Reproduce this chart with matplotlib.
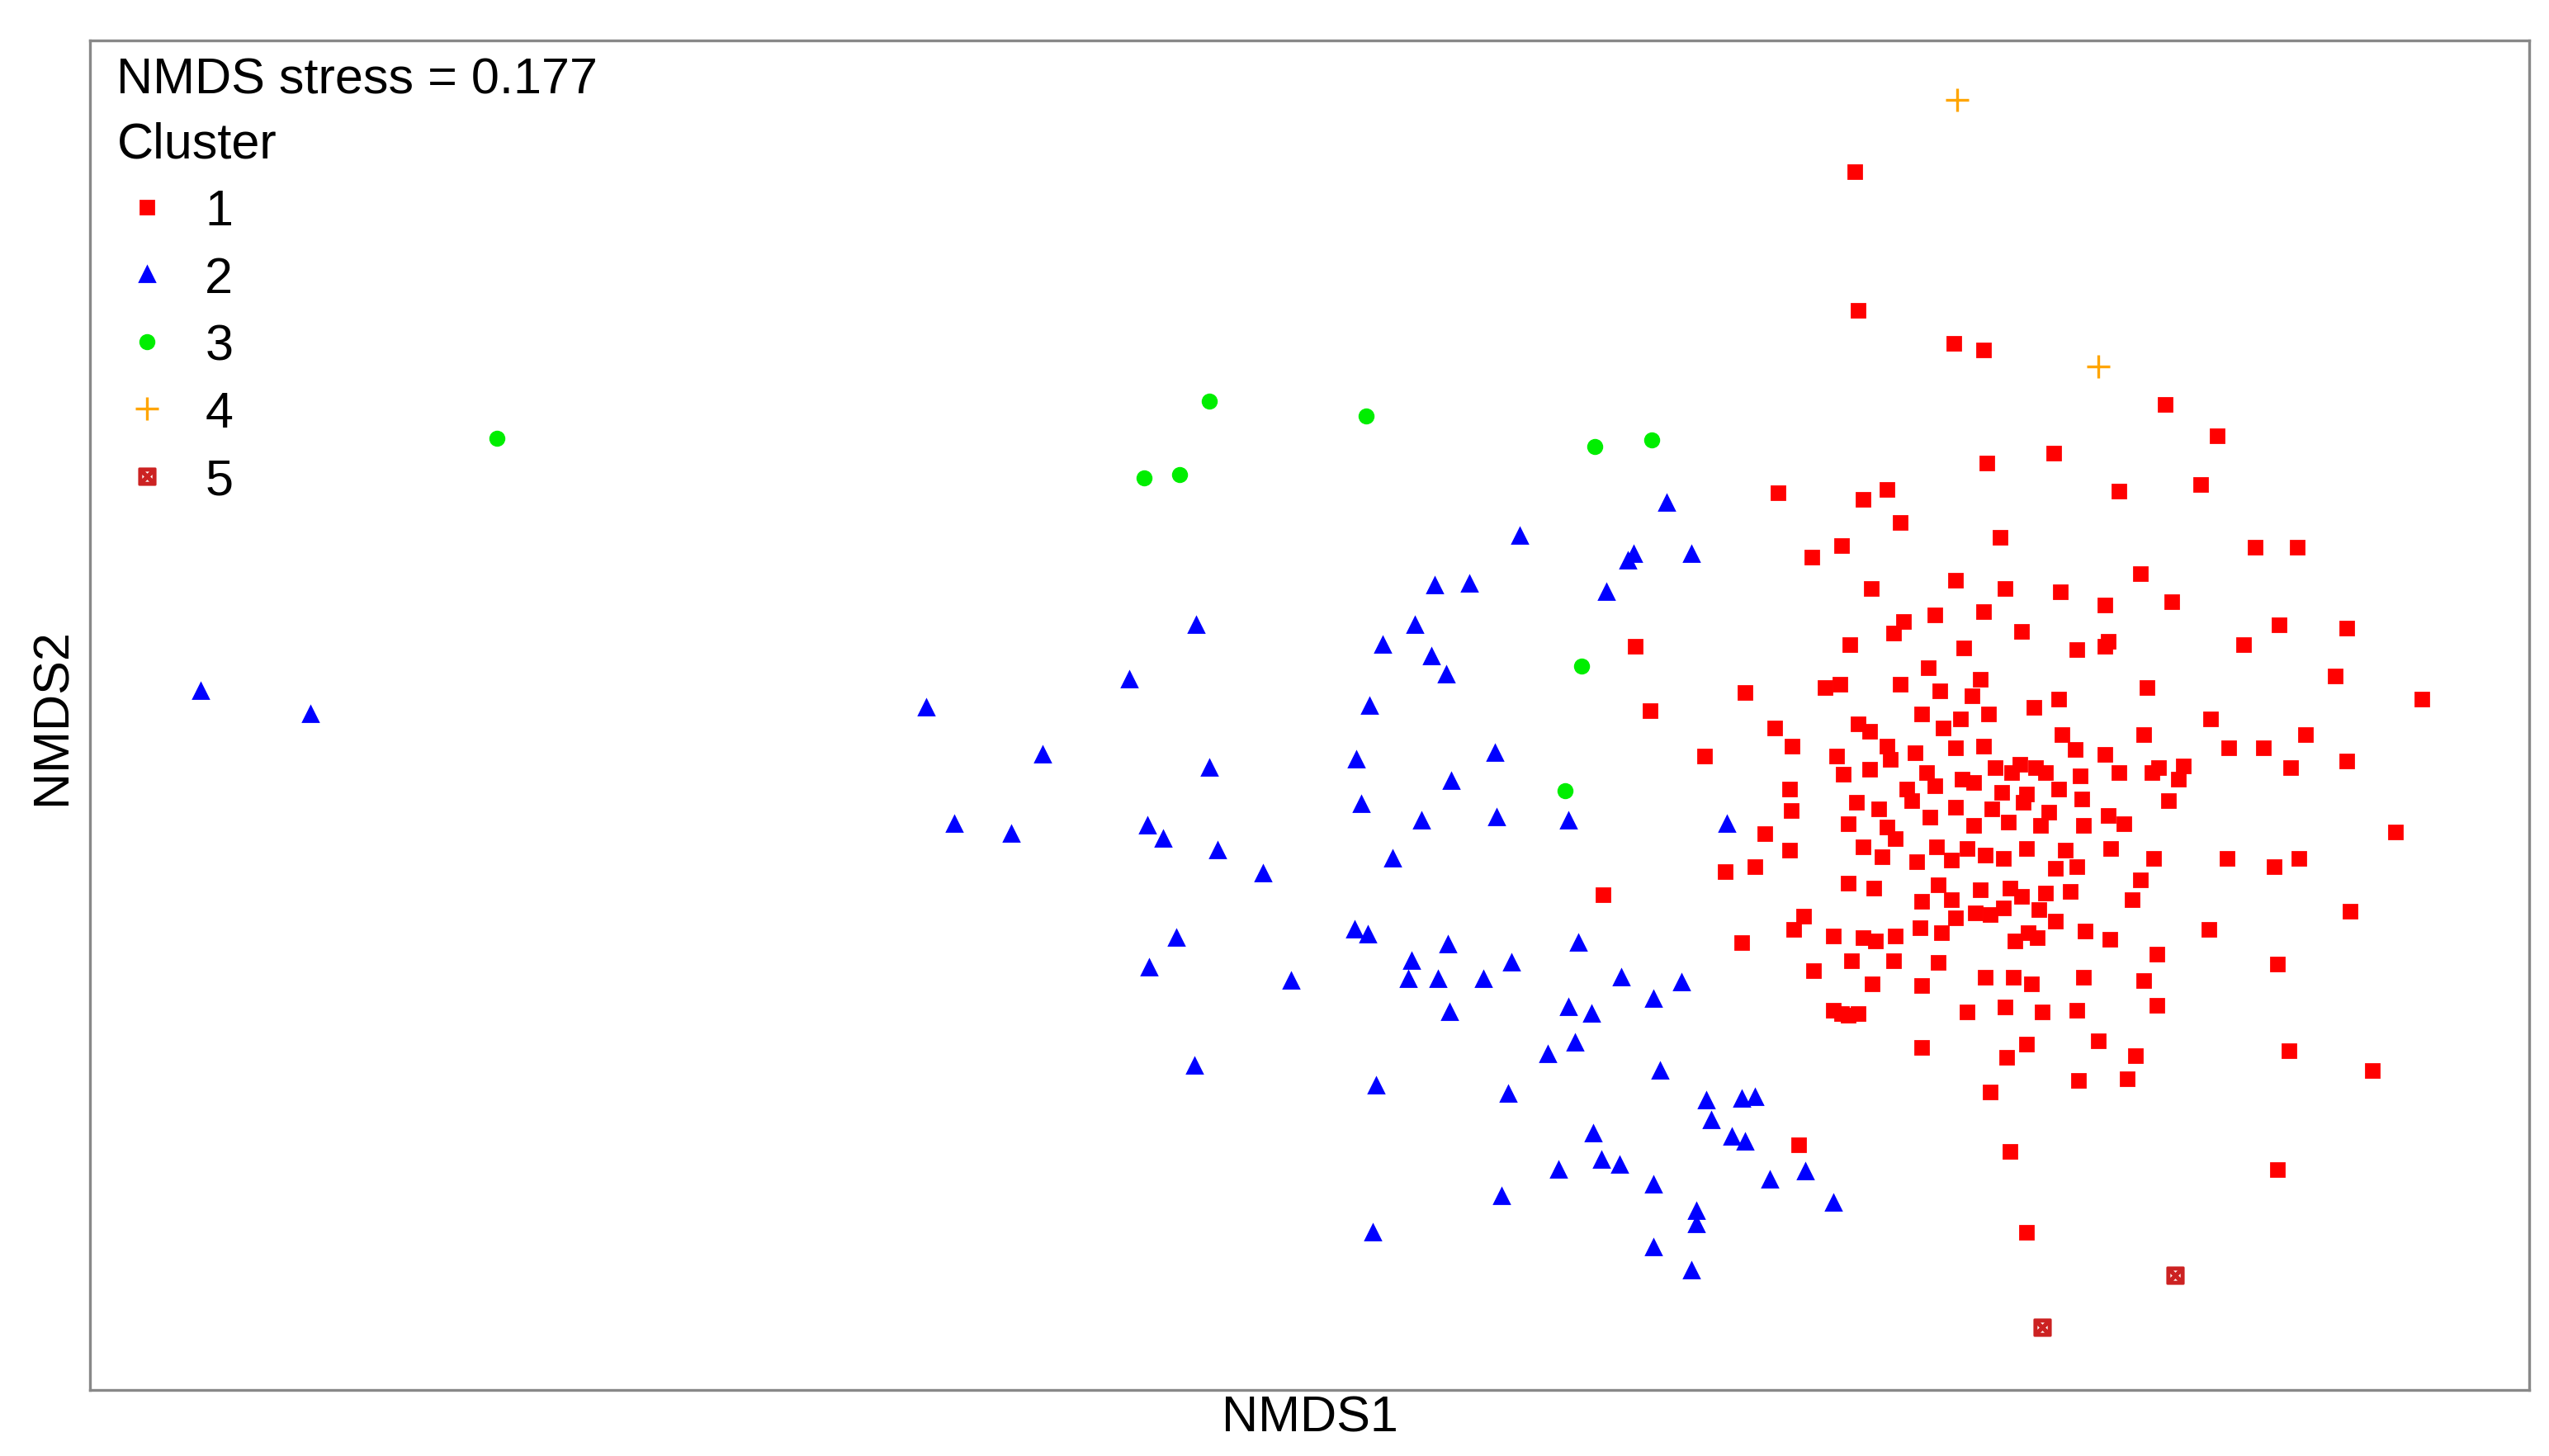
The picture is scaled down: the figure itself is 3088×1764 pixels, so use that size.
import matplotlib
matplotlib.use("Agg")
import matplotlib.pyplot as plt
import numpy as np

plt.rcParams['font.family'] = ['Liberation Sans', 'DejaVu Sans']

c1 = [(1135,105),(1137,189),(1196,209),(1214,213),(1325,246),(1357,265),(1257,276),(1216,282),(1347,295),(1297,299),(1088,300),(1140,304),(1155,298),(1163,318),(1127,332),(1109,339),(1224,327),(1380,333),(1406,333),(1145,358),(1197,353),(1227,358),(1261,360),(1310,349),(1329,366),(1288,368),(1184,374),(1165,378),(1214,372),(1237,384),(1159,385),(1132,392),(1202,394),(1290,390),(1395,380),(1436,382),(1373,392),(1001,393),(1271,395),(1288,393),(1180,406),(1212,413),(1314,418),(1429,411),(1482,425),(1068,421),(1117,418),(1126,416),(1163,416),(1187,420),(1207,423),(1176,434),(1245,430),(1260,425),(1010,432),(1086,443),(1137,440),(1217,434),(1353,437),(1411,447),(1043,460),(1097,454),(1144,445),(1155,454),(1189,443),(1200,437),(1262,447),(1312,447),(1124,460),(1157,462),(1172,458),(1197,455),(1214,454),(1236,465),(1246,467),(1270,456),(1288,459),(1321,467),(1336,466),(1364,455),(1385,455),(1436,463),(1402,467),(1128,471),(1144,468),(1179,470),(1201,474),(1221,467),(1231,470),(1252,470),(1273,472),(1297,470),(1317,470),(1333,474),(1095,480),(1136,488),(1167,480),(1184,478),(1208,476),(1225,482),(1240,483),(1260,480),(1327,487),(1096,493),(1150,492),(1170,487),(1197,491),(1219,492),(1238,488),(1254,494),(1274,486),(1290,496),(1466,506),(1080,507),(1131,501),(1155,503),(1181,497),(1208,502),(1229,500),(1249,502),(1275,502),(1300,501),(1095,517),(1140,515),(1160,510),(1185,515),(1204,516),(1215,520),(1226,522),(1240,516),(1264,517),(1292,516),(1318,522),(1056,530),(1074,527),(1152,521),(1173,524),(1194,523),(1258,528),(1271,527),(1363,522),(1392,527),(1407,522),(1131,537),(1147,540),(1186,538),(1212,541),(1230,540),(1252,543),(1267,542),(1310,535),(981,544),(1104,557),(1176,548),(1194,547),(1209,555),(1226,552),(1237,545),(1248,553),(1305,547),(1438,554),(1122,569),(1175,564),(1197,558),(1218,556),(1241,567),(1258,560),(1276,566),(1352,565),(1066,573),(1098,565),(1140,570),(1148,572),(1160,569),(1188,567),(1233,572),(1247,570),(1291,571),(1320,580),(1394,586),(1110,590),(1133,584),(1159,584),(1176,599),(1186,585),(1215,594),(1232,594),(1275,594),(1146,598),(1243,598),(1312,596),(1122,614),(1131,617),(1137,616),(1127,616),(1204,615),(1227,612),(1250,615),(1271,614),(1320,611),(1176,637),(1240,635),(1284,633),(1307,642),(1401,639),(1228,643),(1218,664),(1272,657),(1302,656),(1452,651),(1101,696),(1230,700),(1394,711),(1240,749)]
c2 = [(123,420),(190,434),(567,430),(638,459),(584,501),(619,507),(691,413),(732,380),(740,467),(702,502),(712,510),(745,517),(773,531),(720,570),(703,588),(790,596),(731,648),(840,749),(842,660),(830,462),(838,429),(833,489),(852,522),(870,499),(888,475),(915,458),(916,497),(878,356),(899,355),(930,326),(866,380),(846,392),(876,399),(885,410),(960,499),(829,565),(837,568),(864,584),(886,574),(862,595),(880,595),(908,595),(925,585),(966,573),(887,615),(960,612),(974,616),(992,594),(1012,607),(1029,597),(947,641),(923,665),(964,634),(1016,651),(1044,669),(1066,668),(1074,667),(1047,681),(1060,691),(1068,694),(975,689),(980,705),(991,708),(954,711),(919,727),(1012,720),(1038,736),(1038,744),(1012,758),(1035,772),(1083,717),(1105,712),(1122,731),(1057,501),(1020,306),(1035,337),(996,341),(1000,337),(983,360)]
c3 = [(304,267),(740,244),(700,291),(722,289),(836,253),(976,272),(1011,268),(968,405),(958,481)]
c4 = [(1198,61),(1284,223)]
c5 = [(1331,775),(1250,807)]

fig = plt.figure(figsize=(15.44, 8.825), dpi=200)
ax = fig.add_axes([55/1560, 40/885, (1548-55)/1560, (845-25)/885])

def xy(pts):
    a = np.array(pts, float)
    return a[:, 0], 885 - a[:, 1]

h = []
x, y = xy(c1); h.append(ax.plot(x, y, 's', color='#ff0000', ms=6, ls='none', label='1')[0])
x, y = xy(c2); h.append(ax.plot(x, y, '^', color='#0000ff', ms=6.5, ls='none', label='2')[0])
x, y = xy(c3); h.append(ax.plot(x, y, 'o', color='#00ee00', ms=6, ls='none', label='3')[0])
x, y = xy(c4); h.append(ax.plot(x, y, '+', color='#ffa500', ms=10, mew=1.2, ls='none', label='4')[0])
x, y = xy(c5); h.append(ax.plot(x, y, marker='$\\boxtimes$', color='#cc2222', ms=7, ls='none', label='5')[0])

ax.set_xlim(55, 1548)
ax.set_ylim(40, 860)
ax.set_xticks([]); ax.set_yticks([])
for s in ax.spines.values():
    s.set_color('#888888'); s.set_linewidth(1.2)
ax.set_xlabel('NMDS1', fontsize=22, labelpad=2)
ax.set_ylabel('NMDS2', fontsize=22, labelpad=6)
ax.text(0.011, 0.988, 'NMDS stress = 0.177', transform=ax.transAxes, fontsize=22, va='top', ha='left')
leg = ax.legend(handles=h, title='Cluster', loc='upper left', bbox_to_anchor=(0.011, 0.94),
                frameon=False, fontsize=22, title_fontsize=22, labelspacing=0.4, handletextpad=0.55,
                handlelength=1.2, borderpad=0, borderaxespad=0)
leg._legend_box.align = 'left'
fig.savefig('out.png', dpi=200)
